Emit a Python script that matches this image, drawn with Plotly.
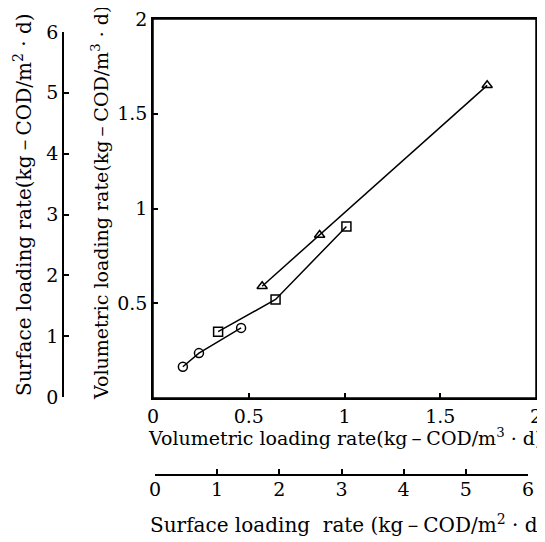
import plotly.graph_objects as go

# Data (volumetric loading rate, kg-COD/m3·d)
circle_x = [0.156, 0.24, 0.46]
circle_y = [0.165, 0.237, 0.37]
square_x = [0.34, 0.64, 1.01]
square_y = [0.35, 0.52, 0.905]
tri_x = [0.57, 0.87, 1.745]
tri_y = [0.59, 0.86, 1.65]

vol_ticks = [0, 0.5, 1, 1.5, 2]
vol_ticktext = ["0", "0.5", "1", "1.5", "2"]
surf_ticks = [0, 1, 2, 3, 4, 5, 6]

OFF = 8  # default page body margin
PAGE_W, PAGE_H = 545, 542
FIG_W, FIG_H = PAGE_W - OFF, PAGE_H - OFF
ML, MR, MT, MB = 0, 8, 2, 67
W = FIG_W - ML - MR
H = FIG_H - MT - MB
PLOT_BOTTOM = FIG_H - MB


def px(xp):
    return (xp - OFF - ML) / W


def py(yp):
    return (PLOT_BOTTOM - (yp - OFF)) / H


FONT = "DejaVu Serif"
LW = 1.5

fig = go.Figure()
for xs, ys, sym in [(circle_x, circle_y, "circle-open"),
                    (square_x, square_y, "square-open"),
                    (tri_x, tri_y, "triangle-up-open")]:
    fig.add_trace(go.Scatter(
        x=xs, y=ys, mode="lines+markers",
        line=dict(color="black", width=1.5),
        marker=dict(symbol=sym, size=9, color="black", line=dict(width=1.5, color="black")),
        showlegend=False, xaxis="x", yaxis="y", cliponaxis=False))

# invisible trace to carry secondary axes
fig.add_trace(go.Scatter(x=[0], y=[0], mode="markers", marker=dict(opacity=0),
                         showlegend=False, hoverinfo="skip", xaxis="x2", yaxis="y2"))

axis_common = dict(showgrid=False, zeroline=False, showline=True, linecolor="black",
                   linewidth=LW, ticks="inside", tickcolor="black", tickwidth=LW,
                   ticklen=5, automargin=False, ticklabeloverflow="allow",
                   tickfont=dict(family=FONT, size=19, color="black"))

fig.update_layout(
    width=FIG_W, height=FIG_H,
    margin=dict(l=ML, r=MR, t=MT, b=MB),
    paper_bgcolor="white", plot_bgcolor="rgba(0,0,0,0)",
    xaxis=dict(domain=[px(153), px(536)], range=[0, 2], anchor="y",
               tickvals=vol_ticks, ticktext=vol_ticktext, mirror=True, **axis_common),
    yaxis=dict(domain=[py(398), py(19)], range=[0, 2], anchor="x",
               tickvals=vol_ticks[1:], ticktext=vol_ticktext[1:], mirror=True, **axis_common),
    xaxis2=dict(domain=[px(155), px(528)], range=[0, 6], anchor="free", position=0,
                side="bottom", tickvals=surf_ticks, ticklabelstandoff=-3, **axis_common),
    yaxis2=dict(domain=[py(397), py(32)], range=[0, 6], anchor="free", position=px(63),
                side="left", tickvals=surf_ticks, **axis_common),
)

# frame around the main plot area
fig.add_shape(type="rect", xref="x domain", yref="y domain", x0=0, x1=1, y0=0, y1=1,
              line=dict(color="black", width=LW), fillcolor="rgba(0,0,0,0)", layer="above")

vol_font = dict(family=FONT, size=19, color="black")
surf_font = dict(family=FONT, size=20, color="black")
fig.add_annotation(text="Volumetric loading rate(kg－COD/m<sup>3</sup> · d)",
                   x=px(345), y=py(437), xref="paper", yref="paper",
                   showarrow=False, font=vol_font, xanchor="center", yanchor="middle")
fig.add_annotation(text="Surface loading\u00a0 rate (kg－COD/m<sup>2</sup> · d)",
                   x=px(347), y=py(524), xref="paper", yref="paper",
                   showarrow=False, font=surf_font, xanchor="center", yanchor="middle")
fig.add_annotation(text="Volumetric loading rate(kg－COD/m<sup>3</sup> · d)",
                   x=px(100), y=py(203), xref="paper", yref="paper", textangle=-90,
                   showarrow=False, font=vol_font, xanchor="center", yanchor="middle")
fig.add_annotation(text="Surface loading rate(kg－COD/m<sup>2</sup> · d)",
                   x=px(23), y=py(205), xref="paper", yref="paper", textangle=-90,
                   showarrow=False, font=surf_font, xanchor="center", yanchor="middle")

fig.write_html("out.html")
